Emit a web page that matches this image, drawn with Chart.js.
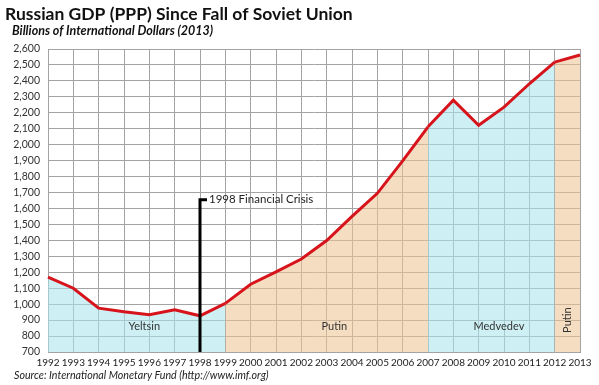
<!DOCTYPE html>
<html>
<head>
<meta charset="utf-8">
<script src="https://cdn.jsdelivr.net/npm/chart.js@4.4.0/dist/chart.umd.min.js"></script>
<style>
  html, body { margin: 0; padding: 0; background: #fff; }
  #wrap { width: 599px; height: 385px; }
</style>
</head>
<body>
<div id="wrap"><canvas id="chartGdp" width="599" height="385"></canvas></div>
<script>
// data
var years = ['1992', '1993', '1994', '1995', '1996', '1997', '1998', '1999', '2000', '2001', '2002',
    '2003', '2004', '2005', '2006', '2007', '2008', '2009', '2010', '2011', '2012', '2013'];
var gdp = [1170, 1100, 975, 952, 933, 965, 927, 1005, 1125, 1202, 1283,
    1399, 1550, 1695, 1898, 2112, 2279, 2122, 2235, 2382, 2518, 2562];

// who was in charge, by index range into years
var periodNames = ['Yeltsin', 'Putin', 'Medvedev', 'Putin'];
var periodFrom = [0, 7, 15, 20];
var periodTo = [7, 15, 20, 21];

var crisisYear = '1998';
var crisisLabel = '1998 Financial Crisis';

var cyan = 'rgba(170, 228, 234, 0.58)';
var beige = 'rgba(238, 196, 150, 0.58)';
var periodColors = [cyan, beige, cyan, beige];

function periodOf(i) {
    for (var p = 0; p < periodFrom.length; p++) {
        if (i >= periodFrom[p] && i < periodTo[p]) return p;
    }
    return periodFrom.length - 1;
}

var ctx = document.getElementById('chartGdp').getContext('2d');

var textPlugin = {
    id: 'texts',
    afterDatasetsDraw: function (chart) {
        var c = chart.ctx;
        var xs = chart.scales.x;
        var ys = chart.scales.y;
        c.save();

        // crisis marker
        var cx = xs.getPixelForValue(years.indexOf(crisisYear));
        var cy = ys.getPixelForValue(1655);
        c.strokeStyle = '#000';
        c.lineWidth = 3;
        c.beginPath();
        c.moveTo(cx, chart.chartArea.bottom);
        c.lineTo(cx, cy);
        c.lineTo(cx + 7, cy);
        c.stroke();
        c.fillStyle = '#222';
        c.font = '11.5px Lato';
        c.textBaseline = 'middle';
        c.textAlign = 'left';
        c.fillText(crisisLabel, cx + 9, cy);

        // period names
        c.fillStyle = '#333';
        c.font = '11px Lato';
        c.textAlign = 'center';
        var ly = ys.getPixelForValue(858);
        for (var p = 0; p < periodNames.length - 1; p++) {
            var mid = (periodFrom[p] + periodTo[p]) / 2 + 0.3;
            c.fillText(periodNames[p], xs.getPixelForValue(mid), ly);
        }
        var last = periodNames.length - 1;
        c.translate(xs.getPixelForValue((periodFrom[last] + periodTo[last]) / 2), ys.getPixelForValue(900));
        c.rotate(-Math.PI / 2);
        c.fillText(periodNames[last], 0, 0);
        c.restore();

        // titles and source
        c.save();
        c.fillStyle = '#111';
        c.textAlign = 'left';
        c.textBaseline = 'middle';
        c.font = 'bold 17.5px Lato';
        c.fillText('Russian GDP (PPP) Since Fall of Soviet Union', 5, 14);
        c.font = 'italic bold 12.5px Lato';
        c.fillText('Billions of International Dollars (2013)', 12, 31);
        c.fillStyle = '#222';
        c.font = 'italic 10.7px Lato';
        c.fillText('Source: International Monetary Fund (http://www.imf.org)', 14, 376);
        c.restore();
    }
};

var myChart = new Chart(ctx, {
    type: 'line',
    data: {
        labels: years,
        datasets: [{
            label: 'GDP (PPP)',
            data: gdp,
            borderColor: '#d7141b',
            borderWidth: 3,
            pointRadius: 0,
            tension: 0,
            fill: 'start',
            backgroundColor: cyan,
            segment: {
                backgroundColor: function (s) {
                    return periodColors[periodOf(s.p0DataIndex)];
                }
            }
        }]
    },
    options: {
        responsive: false,
        animation: false,
        layout: { padding: { top: 49, right: 19, left: 0, bottom: 0 } },
        plugins: {
            legend: { display: false },
            tooltip: { enabled: false }
        },
        scales: {
            x: {
                offset: false,
                grid: { color: '#a3a3a3', drawTicks: false },
                border: { color: '#a3a3a3' },
                ticks: {
                    autoSkip: false,
                    maxRotation: 0,
                    padding: 5,
                    color: '#222',
                    font: { family: 'Lato', size: 10 }
                },
                afterFit: function (scale) { scale.height = 33; }
            },
            y: {
                min: 700,
                max: 2600,
                grid: { color: '#a3a3a3', drawTicks: false },
                border: { color: '#a3a3a3' },
                ticks: {
                    stepSize: 100,
                    padding: 8,
                    color: '#333',
                    font: { family: 'Lato', size: 10.5 }
                },
                afterFit: function (scale) { scale.width = 48; }
            }
        }
    },
    plugins: [textPlugin]
});
</script>
</body>
</html>
